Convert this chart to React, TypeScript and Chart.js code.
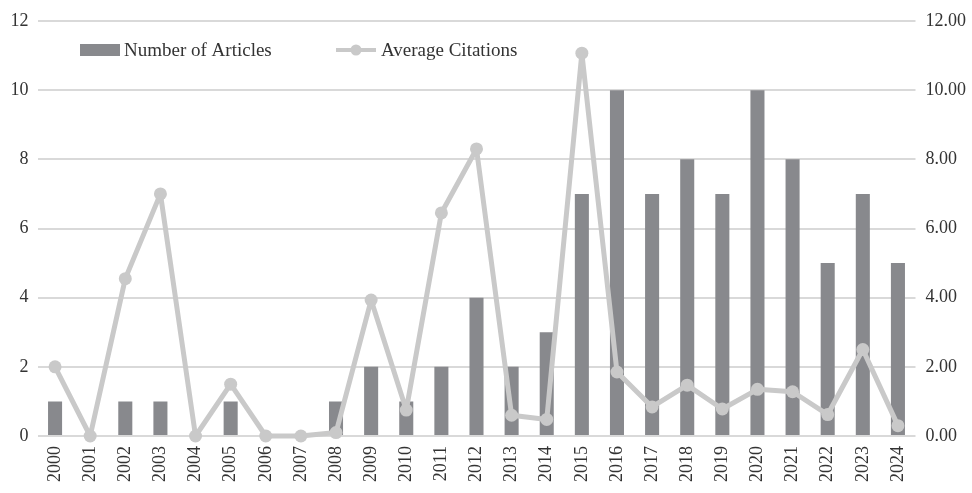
import React, { useEffect, useRef } from "react";
import { Chart, registerables } from "chart.js";

Chart.register(...registerables);

const years = ["2000","2001","2002","2003","2004","2005","2006","2007","2008","2009","2010","2011","2012","2013","2014","2015","2016","2017","2018","2019","2020","2021","2022","2023","2024"];
const articles = [1,0,1,1,0,1,0,0,1,2,1,2,4,2,3,7,10,7,8,7,10,8,5,7,5];
const avgCitations = [2.0,0,4.55,7.0,0,1.5,0,0,0.1,3.93,0.75,6.45,8.3,0.6,0.48,11.07,1.85,0.84,1.47,0.78,1.35,1.28,0.62,2.5,0.3];
const leftTicks = [0,2,4,6,8,10,12];
const rightTicks = [0,2,4,6,8,10,12];

const FONT = "'Liberation Serif', 'Times New Roman', serif";
const BAR_COLOR = "#88898d";
const LINE_COLOR = "#c9c9c9";
const TEXT_COLOR = "#333333";
const GRID_COLOR = "#d9d9d9";

const legendPlugin = {
  id: "customLegend",
  afterDraw(chart: any) {
    const { ctx, chartArea } = chart;
    const ds = chart.data.datasets;
    const y = chartArea.top + 29;
    ctx.save();
    ctx.font = `19px ${FONT}`;
    ctx.textBaseline = "middle";
    ctx.textAlign = "left";
    const x1 = chartArea.left + 42.5;
    ctx.fillStyle = BAR_COLOR;
    ctx.fillRect(x1, y - 6, 40, 12);
    ctx.fillStyle = TEXT_COLOR;
    ctx.fillText(ds[0].label, x1 + 44, y + 1);
    const x2 = chartArea.left + 298.5;
    ctx.strokeStyle = LINE_COLOR;
    ctx.lineWidth = 4;
    ctx.beginPath();
    ctx.moveTo(x2, y);
    ctx.lineTo(x2 + 40, y);
    ctx.stroke();
    ctx.fillStyle = LINE_COLOR;
    ctx.beginPath();
    ctx.arc(x2 + 20, y, 5.5, 0, Math.PI * 2);
    ctx.fill();
    ctx.fillStyle = TEXT_COLOR;
    ctx.fillText(ds[1].label, x2 + 45, y + 1);
    ctx.restore();
  },
};

export default function App() {
  const ref = useRef<HTMLCanvasElement>(null);
  useEffect(() => {
    document.body.style.margin = "0";
    const canvas = ref.current;
    if (!canvas) return;
    const chart = new Chart(canvas, {
      type: "bar",
      data: {
        labels: years,
        datasets: [
          {
            type: "bar",
            label: "Number of Articles",
            data: articles,
            backgroundColor: BAR_COLOR,
            yAxisID: "y",
            order: 1,
            categoryPercentage: 1,
            barPercentage: 0.4,
          } as any,
          {
            type: "line",
            label: "Average Citations",
            data: avgCitations,
            borderColor: LINE_COLOR,
            backgroundColor: LINE_COLOR,
            borderWidth: 5,
            borderJoinStyle: "round",
            borderCapStyle: "round",
            pointRadius: 6.5,
            pointBorderWidth: 0,
            pointBackgroundColor: LINE_COLOR,
            yAxisID: "y1",
            order: 0,
            tension: 0,
            clip: false,
          } as any,
        ],
      },
      options: {
        animation: false,
        responsive: true,
        maintainAspectRatio: false,
        layout: { padding: { top: 21, left: 0, right: 0, bottom: 0 } },
        plugins: {
          legend: { display: false },
          tooltip: { enabled: false },
        },
        scales: {
          x: {
            grid: { display: false, drawTicks: false },
            border: { display: false },
            ticks: {
              color: TEXT_COLOR,
              font: { family: FONT, size: 18 },
              maxRotation: 90,
              minRotation: 90,
              padding: 10,
              autoSkip: false,
            },
            afterFit(scale: any) {
              scale.height = 57;
            },
          },
          y: {
            position: "left",
            min: 0,
            max: 12,
            afterBuildTicks(scale: any) {
              scale.ticks = leftTicks.map((v) => ({ value: v }));
            },
            grid: { color: GRID_COLOR, lineWidth: 2, drawTicks: false },
            border: { display: false },
            ticks: {
              color: TEXT_COLOR,
              font: { family: FONT, size: 18 },
              padding: 9,
              callback: (v: any) => String(v),
            },
            afterFit(scale: any) {
              scale.width = 37.5;
            },
          },
          y1: {
            position: "right",
            min: 0,
            max: 12,
            afterBuildTicks(scale: any) {
              scale.ticks = rightTicks.map((v) => ({ value: v }));
            },
            grid: { display: false, drawTicks: false },
            border: { display: false },
            ticks: {
              color: TEXT_COLOR,
              font: { family: FONT, size: 18 },
              padding: 10,
              callback: (v: any) => Number(v).toFixed(2),
            },
            afterFit(scale: any) {
              scale.width = 56.5;
            },
          },
        },
      },
      plugins: [legendPlugin],
    });
    return () => chart.destroy();
  }, []);
  return (
    <div style={{ width: 972, height: 493, position: "relative" }}>
      <canvas ref={ref} />
    </div>
  );
}
